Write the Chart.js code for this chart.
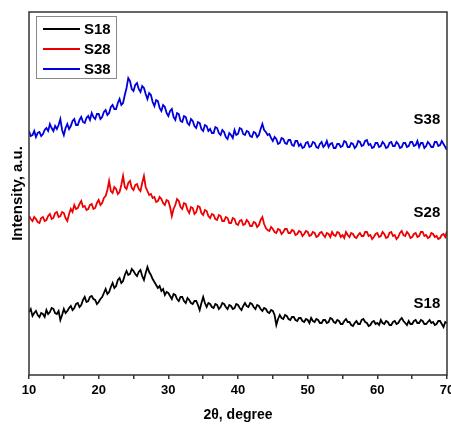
<!DOCTYPE html>
<html>
<head>
<meta charset="utf-8">
<script src="https://cdn.jsdelivr.net/npm/chart.js@4"></script>
<style>
    body { margin: 0; overflow: hidden; background: #fff; }
    #wrap { width: 470px; height: 424px; }
</style>
</head>
<body>
<div id="wrap"><canvas id="xrdChart"></canvas></div>
<script>
// 2theta grid (degrees), 0.25 deg step
const angles = [
    10, 10.25, 10.5, 10.75, 11, 11.25, 11.5, 11.75, 12, 12.25, 12.5, 12.75, 13, 13.25, 13.5, 13.75, 14, 14.25, 14.5, 14.75,
    15, 15.25, 15.5, 15.75, 16, 16.25, 16.5, 16.75, 17, 17.25, 17.5, 17.75, 18, 18.25, 18.5, 18.75, 19, 19.25, 19.5, 19.75,
    20, 20.25, 20.5, 20.75, 21, 21.25, 21.5, 21.75, 22, 22.25, 22.5, 22.75, 23, 23.25, 23.5, 23.75, 24, 24.25, 24.5, 24.75,
    25, 25.25, 25.5, 25.75, 26, 26.25, 26.5, 26.75, 27, 27.25, 27.5, 27.75, 28, 28.25, 28.5, 28.75, 29, 29.25, 29.5, 29.75,
    30, 30.25, 30.5, 30.75, 31, 31.25, 31.5, 31.75, 32, 32.25, 32.5, 32.75, 33, 33.25, 33.5, 33.75, 34, 34.25, 34.5, 34.75,
    35, 35.25, 35.5, 35.75, 36, 36.25, 36.5, 36.75, 37, 37.25, 37.5, 37.75, 38, 38.25, 38.5, 38.75, 39, 39.25, 39.5, 39.75,
    40, 40.25, 40.5, 40.75, 41, 41.25, 41.5, 41.75, 42, 42.25, 42.5, 42.75, 43, 43.25, 43.5, 43.75, 44, 44.25, 44.5, 44.75,
    45, 45.25, 45.5, 45.75, 46, 46.25, 46.5, 46.75, 47, 47.25, 47.5, 47.75, 48, 48.25, 48.5, 48.75, 49, 49.25, 49.5, 49.75,
    50, 50.25, 50.5, 50.75, 51, 51.25, 51.5, 51.75, 52, 52.25, 52.5, 52.75, 53, 53.25, 53.5, 53.75, 54, 54.25, 54.5, 54.75,
    55, 55.25, 55.5, 55.75, 56, 56.25, 56.5, 56.75, 57, 57.25, 57.5, 57.75, 58, 58.25, 58.5, 58.75, 59, 59.25, 59.5, 59.75,
    60, 60.25, 60.5, 60.75, 61, 61.25, 61.5, 61.75, 62, 62.25, 62.5, 62.75, 63, 63.25, 63.5, 63.75, 64, 64.25, 64.5, 64.75,
    65, 65.25, 65.5, 65.75, 66, 66.25, 66.5, 66.75, 67, 67.25, 67.5, 67.75, 68, 68.25, 68.5, 68.75, 69, 69.25, 69.5, 69.75,
    70
];

// intensities (a.u.), curves offset vertically as in the figure
const s18 = [
    63, 66, 59, 62, 64, 60, 58, 62, 61, 58, 65, 61, 63, 67, 66, 62, 61, 64, 55, 60,
    66, 62, 64, 67, 69, 65, 67, 71, 72, 68, 70, 75, 78, 73, 74, 78, 79, 76, 75, 71,
    73, 76, 78, 82, 86, 81, 83, 88, 92, 87, 89, 95, 97, 92, 94, 100, 104, 100, 101, 106,
    104, 101, 99, 103, 105, 99, 95, 102, 108, 103, 100, 96, 93, 90, 87, 89, 84, 86, 80, 83,
    82, 79, 76, 81, 80, 76, 74, 78, 78, 74, 72, 77, 75, 72, 71, 74, 74, 70, 65, 72,
    78, 72, 68, 72, 71, 68, 67, 71, 70, 66, 68, 72, 71, 68, 66, 70, 69, 66, 67, 71,
    70, 67, 65, 69, 72, 69, 68, 72, 71, 68, 66, 70, 69, 66, 64, 67, 66, 63, 62, 65,
    64, 60, 50, 56, 60, 57, 56, 60, 59, 56, 55, 58, 58, 55, 54, 57, 57, 54, 53, 56,
    55, 52, 57, 54, 53, 56, 55, 52, 52, 55, 55, 52, 53, 57, 56, 53, 52, 55, 54, 51,
    51, 54, 56, 53, 53, 50, 49, 52, 54, 51, 51, 55, 56, 53, 52, 49, 50, 53, 54, 51,
    52, 50, 55, 52, 51, 54, 53, 50, 50, 53, 54, 51, 52, 55, 57, 54, 52, 50, 54, 51,
    51, 54, 55, 52, 52, 55, 54, 51, 51, 53, 55, 52, 53, 50, 51, 54, 54, 51, 48, 53,
    52
];
const s28 = [
    159, 156, 154, 158, 156, 153, 152, 157, 158, 154, 155, 159, 161, 156, 157, 162, 163, 158, 159, 163,
    162, 157, 154, 161, 166, 163, 170, 166, 167, 171, 174, 168, 169, 165, 166, 170, 171, 166, 167, 172,
    175, 170, 172, 177, 179, 185, 194, 184, 182, 188, 186, 181, 183, 190, 199, 188, 186, 192, 194, 187,
    185, 190, 191, 186, 184, 192, 199, 188, 184, 180, 181, 177, 178, 173, 174, 178, 176, 172, 170, 175,
    174, 168, 159, 166, 170, 176, 174, 168, 166, 172, 171, 165, 162, 168, 167, 161, 163, 169, 168, 162,
    160, 165, 164, 159, 157, 161, 160, 156, 155, 160, 159, 154, 154, 158, 157, 152, 152, 157, 156, 151,
    150, 154, 155, 150, 151, 155, 153, 149, 149, 153, 152, 148, 150, 155, 158, 151, 147, 145, 144, 148,
    146, 143, 142, 146, 145, 141, 143, 146, 146, 142, 142, 145, 144, 140, 141, 144, 143, 139, 141, 144,
    143, 139, 140, 143, 142, 138, 139, 142, 143, 140, 138, 142, 141, 138, 143, 140, 139, 143, 142, 138,
    140, 137, 143, 140, 138, 142, 141, 138, 137, 140, 142, 139, 139, 143, 143, 139, 140, 136, 138, 141,
    142, 138, 139, 143, 141, 137, 138, 142, 143, 139, 140, 136, 138, 142, 144, 140, 139, 143, 141, 137,
    138, 141, 142, 138, 139, 143, 143, 139, 140, 137, 138, 142, 141, 138, 139, 136, 137, 140, 141, 138,
    144
];
const s38 = [
    244, 239, 240, 244, 238, 242, 243, 239, 241, 245, 247, 244, 251, 247, 244, 249, 246, 250, 256, 245,
    240, 247, 251, 246, 249, 254, 256, 250, 250, 255, 258, 253, 252, 257, 259, 255, 262, 258, 256, 261,
    261, 256, 258, 263, 265, 260, 262, 268, 270, 266, 266, 272, 276, 270, 272, 280, 287, 297, 294, 286,
    284, 290, 292, 286, 283, 289, 287, 281, 276, 282, 280, 273, 269, 275, 274, 267, 264, 270, 268, 262,
    259, 264, 266, 258, 255, 262, 261, 254, 253, 259, 258, 252, 250, 256, 254, 249, 247, 253, 252, 246,
    244, 250, 249, 244, 246, 242, 242, 248, 247, 242, 240, 245, 243, 238, 236, 242, 240, 237, 245, 240,
    241, 247, 246, 241, 240, 244, 243, 239, 238, 243, 242, 238, 240, 246, 251, 245, 243, 240, 241, 237,
    234, 238, 236, 231, 232, 237, 236, 232, 231, 235, 235, 230, 229, 234, 234, 229, 231, 227, 228, 232,
    233, 228, 229, 233, 232, 228, 227, 231, 233, 228, 230, 234, 228, 231, 232, 227, 227, 231, 231, 228,
    229, 234, 233, 228, 228, 232, 231, 227, 229, 234, 233, 229, 230, 234, 235, 230, 231, 227, 228, 232,
    232, 228, 229, 233, 231, 227, 228, 232, 233, 229, 229, 233, 231, 227, 228, 232, 232, 228, 229, 233,
    233, 229, 230, 234, 228, 232, 232, 227, 229, 233, 231, 228, 228, 233, 233, 229, 230, 234, 231, 228,
    225
];

const seriesNames = ['S18', 'S28', 'S38'];
const seriesColors = ['#000000', '#ee0000', '#0000dd'];
const xTicks = [10, 20, 30, 40, 50, 60, 70];

const FONT = "'Liberation Sans', Arial, sans-serif";

function toPoints(ys) {
    return angles.map(function (a, i) { return { x: a, y: ys[i] }; });
}

// frame around the plot area
const framePlugin = {
    id: 'frame',
    afterDraw(chart) {
        const { ctx, chartArea: a } = chart;
        ctx.save();
        ctx.strokeStyle = '#333';
        ctx.lineWidth = 1.5;
        ctx.strokeRect(a.left, a.top, a.right - a.left, a.bottom - a.top);
        ctx.restore();
    }
};

// legend box in the top-left corner + names at the right of each curve
const labelsPlugin = {
    id: 'curveLabels',
    afterDraw(chart) {
        const { ctx, chartArea: a, scales } = chart;
        ctx.save();
        const bx = a.left + 7, by = a.top + 4;
        ctx.strokeStyle = '#888';
        ctx.lineWidth = 1;
        ctx.strokeRect(bx + 0.5, by + 0.5, 80, 62);
        ctx.font = 'bold 15px ' + FONT;
        ctx.textBaseline = 'middle';
        ctx.textAlign = 'left';
        chart.data.datasets.forEach(function (ds, i) {
            const y = by + 13 + i * 20;
            ctx.strokeStyle = ds.borderColor;
            ctx.lineWidth = 2;
            ctx.beginPath();
            ctx.moveTo(bx + 7, y);
            ctx.lineTo(bx + 44, y);
            ctx.stroke();
            ctx.fillStyle = '#000';
            ctx.fillText(ds.label, bx + 48, y + 1);
        });
        // curve names
        const spots = [71, 162, 255];
        chart.data.datasets.forEach(function (ds, i) {
            ctx.fillStyle = '#000';
            ctx.fillText(ds.label, scales.x.getPixelForValue(65.2), scales.y.getPixelForValue(spots[i]));
        });
        ctx.restore();
    }
};

const ctx = document.getElementById('xrdChart').getContext('2d');
new Chart(ctx, {
    type: 'line',
    data: {
        datasets: [s18, s28, s38].map(function (ys, i) {
            return {
                label: seriesNames[i],
                data: toPoints(ys),
                borderColor: seriesColors[i],
                borderWidth: 1.8,
                pointRadius: 0,
                tension: 0
            };
        })
    },
    options: {
        responsive: true,
        maintainAspectRatio: false,
        animation: false,
        layout: { padding: { left: 0, right: 23, top: 12, bottom: 0 } },
        plugins: {
            legend: { display: false },
            tooltip: { enabled: false }
        },
        scales: {
            x: {
                type: 'linear',
                min: 10,
                max: 70,
                afterFit: function (scale) { scale.height = 49; },
                border: { display: false },
                grid: {
                    drawOnChartArea: false,
                    drawTicks: true,
                    tickLength: 4,
                    color: '#333',
                    lineWidth: 1.5
                },
                ticks: {
                    stepSize: 5,
                    autoSkip: false,
                    maxRotation: 0,
                    padding: 4,
                    color: '#000',
                    font: { family: FONT, size: 13, weight: 'bold' },
                    callback: function (v) { return xTicks.includes(v) ? v : ''; }
                },
                title: {
                    display: true,
                    text: '2θ, degree',
                    color: '#000',
                    padding: 0,
                    font: { family: FONT, size: 14, weight: 'bold', lineHeight: 1.2 }
                }
            },
            y: {
                min: 0,
                max: 363,
                afterFit: function (scale) { scale.width = 29; },
                border: { display: false },
                grid: { display: false },
                ticks: { display: false },
                title: {
                    display: true,
                    text: 'Intensity, a.u.',
                    color: '#000',
                    padding: { top: 8.5, bottom: 0 },
                    font: { family: FONT, size: 15, weight: 'bold', lineHeight: 1.2 }
                }
            }
        }
    },
    plugins: [framePlugin, labelsPlugin]
});
</script>
</body>
</html>
